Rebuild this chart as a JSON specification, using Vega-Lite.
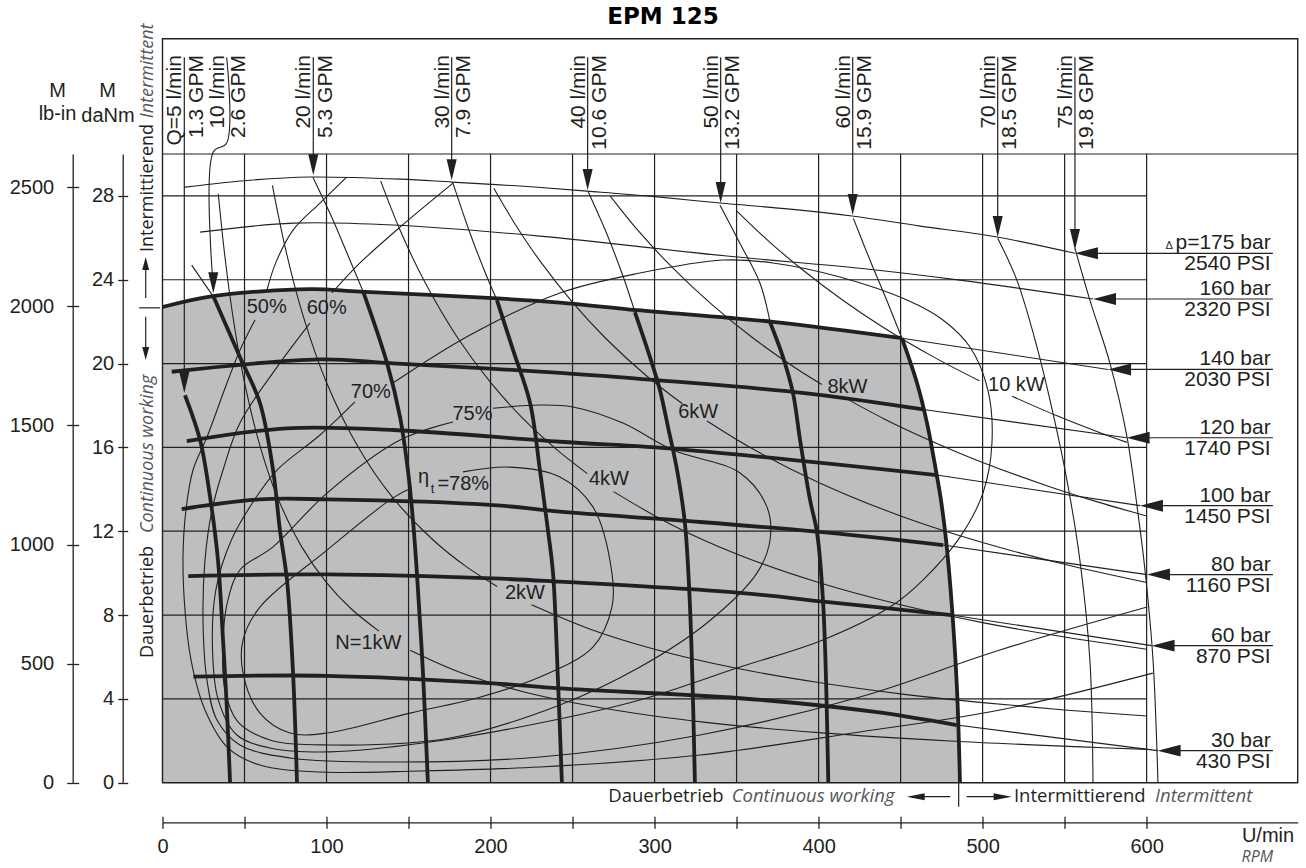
{
"$schema":"https://vega.github.io/schema/vega-lite/v6.json",
"width":1135.2,"height":628.7,
"autosize":{"type":"none"},
"padding":{"left":162.5,"top":154,"right":8.3,"bottom":85.3},
"background":"white",
"config":{"view":{"stroke":null},"axis":{"labelFont":"Liberation Sans","labelFontSize":20,"labelColor":"#231f20","domainColor":"#231f20","tickColor":"#231f20","domainWidth":1.3,"tickWidth":1.3,"grid":false,"title":null,"labelFlush":false,"labelOverlap":false}},
"datasets":{
"gray":[{"rpm":0,"danm":22.7},{"rpm":30.8,"danm":23.22},{"rpm":89.9,"danm":23.55},{"rpm":120.4,"danm":23.43},{"rpm":201.5,"danm":23.12},{"rpm":242.3,"danm":22.91},{"rpm":289.3,"danm":22.55},{"rpm":372.2,"danm":21.99},{"rpm":450.8,"danm":21.21},{"rpm":460,"danm":19.07},{"rpm":466.1,"danm":17.16},{"rpm":470.4,"danm":15.4},{"rpm":474.6,"danm":13.49},{"rpm":477.7,"danm":11.58},{"rpm":481.3,"danm":8.38},{"rpm":484.4,"danm":4.42},{"rpm":486.2,"danm":0}],
"vseg":[{"rpm":50,"y0":0,"y1":30},{"rpm":100,"y0":0,"y1":30},{"rpm":150,"y0":0,"y1":30},{"rpm":200,"y0":0,"y1":30},{"rpm":250,"y0":0,"y1":30},{"rpm":300,"y0":0,"y1":30},{"rpm":350,"y0":0,"y1":30},{"rpm":400,"y0":0,"y1":30},{"rpm":450,"y0":0,"y1":30},{"rpm":500,"y0":0,"y1":30},{"rpm":550,"y0":0,"y1":30},{"rpm":600,"y0":0,"y1":30},
{"rpm":13.29,"y0":34.62,"y1":18.9},{"rpm":91.93,"y0":34.62,"y1":29.2},{"rpm":176.3,"y0":34.62,"y1":29},{"rpm":259.2,"y0":34.62,"y1":28.5},{"rpm":340.3,"y0":34.62,"y1":27.9},{"rpm":420.8,"y0":34.62,"y1":27.3},{"rpm":509.2,"y0":34.62,"y1":26.3},{"rpm":556.3,"y0":34.62,"y1":25.7},
{"rpm":-10.24,"y0":23.13,"y1":24.9},{"rpm":-10.24,"y0":22.23,"y1":20.4},{"rpm":485.4,"y0":0,"y1":-1.145}],
"hseg":[{"danm":4,"x0":0,"x1":600},{"danm":8,"x0":0,"x1":600},{"danm":12,"x0":0,"x1":600},{"danm":16,"x0":0,"x1":600},{"danm":20,"x0":0,"x1":600},{"danm":24,"x0":0,"x1":600},{"danm":28,"x0":0,"x1":600},{"danm":30,"x0":0,"x1":692.1},
{"danm":22.66,"x0":-14.3,"x1":-1.5},
{"danm":25.26,"x0":560,"x1":677},{"danm":23.08,"x0":571,"x1":677},{"danm":19.72,"x0":580,"x1":677},{"danm":16.46,"x0":591,"x1":677},{"danm":13.22,"x0":599,"x1":677},{"danm":9.93,"x0":603,"x1":677},{"danm":6.54,"x0":606,"x1":677},{"danm":1.53,"x0":610,"x1":677},
{"danm":-0.668,"x0":456,"x1":480.2},{"danm":-0.668,"x0":490.3,"x1":515}],
"thick":[
{"id":"t140","rpm":0,"danm":22.7},{"id":"t140","rpm":30.8,"danm":23.22},{"id":"t140","rpm":89.9,"danm":23.55},{"id":"t140","rpm":120.4,"danm":23.43},{"id":"t140","rpm":201.5,"danm":23.12},{"id":"t140","rpm":242.3,"danm":22.91},{"id":"t140","rpm":289.3,"danm":22.55},{"id":"t140","rpm":372.2,"danm":21.99},{"id":"t140","rpm":450.8,"danm":21.21},
{"id":"t120","rpm":5.6,"danm":19.61},{"id":"t120","rpm":96,"danm":20.2},{"id":"t120","rpm":140.7,"danm":20.01},{"id":"t120","rpm":242.3,"danm":19.56},{"id":"t120","rpm":301.3,"danm":19.21},{"id":"t120","rpm":392.7,"danm":18.58},{"id":"t120","rpm":463.8,"danm":17.81},
{"id":"t100","rpm":14.8,"danm":16.3},{"id":"t100","rpm":75.7,"danm":16.91},{"id":"t100","rpm":140.7,"danm":16.83},{"id":"t100","rpm":242.3,"danm":16.27},{"id":"t100","rpm":315.5,"danm":15.91},{"id":"t100","rpm":472,"danm":14.68},
{"id":"t80","rpm":11.7,"danm":13.06},{"id":"t80","rpm":59.4,"danm":13.52},{"id":"t80","rpm":100.1,"danm":13.52},{"id":"t80","rpm":201.7,"danm":13.25},{"id":"t80","rpm":242.3,"danm":12.93},{"id":"t80","rpm":319.6,"danm":12.49},{"id":"t80","rpm":398.8,"danm":11.98},{"id":"t80","rpm":476,"danm":11.34},
{"id":"t60","rpm":15.7,"danm":9.86},{"id":"t60","rpm":100.1,"danm":9.94},{"id":"t60","rpm":201.7,"danm":9.75},{"id":"t60","rpm":242.3,"danm":9.59},{"id":"t60","rpm":352.1,"danm":9.06},{"id":"t60","rpm":402.9,"danm":8.64},{"id":"t60","rpm":481.1,"danm":8},
{"id":"t30","rpm":18.8,"danm":5.06},{"id":"t30","rpm":100.1,"danm":5.1},{"id":"t30","rpm":201.7,"danm":4.74},{"id":"t30","rpm":242.3,"danm":4.5},{"id":"t30","rpm":352.1,"danm":4.03},{"id":"t30","rpm":433.3,"danm":3.39},{"id":"t30","rpm":484.2,"danm":2.75},
{"id":"q5","rpm":13.7,"danm":18.49},{"id":"q5","rpm":22.9,"danm":16.35},{"id":"q5","rpm":29,"danm":13.63},{"id":"q5","rpm":33.8,"danm":10.63},{"id":"q5","rpm":36.9,"danm":6.81},{"id":"q5","rpm":39.2,"danm":3.61},{"id":"q5","rpm":41.2,"danm":0},
{"id":"q10","rpm":30.8,"danm":23.25},{"id":"q10","rpm":47.2,"danm":20.31},{"id":"q10","rpm":59.4,"danm":18.12},{"id":"q10","rpm":67.4,"danm":14.92},{"id":"q10","rpm":71.6,"danm":12.05},{"id":"q10","rpm":75.9,"danm":9.67},{"id":"q10","rpm":79.6,"danm":5.22},{"id":"q10","rpm":82,"danm":0},
{"id":"q20","rpm":122.4,"danm":23.42},{"id":"q20","rpm":136.9,"danm":20.02},{"id":"q20","rpm":144.8,"danm":17.46},{"id":"q20","rpm":149.6,"danm":14.92},{"id":"q20","rpm":152.7,"danm":12.53},{"id":"q20","rpm":155.1,"danm":10.01},{"id":"q20","rpm":158.8,"danm":5.24},{"id":"q20","rpm":161.8,"danm":0},
{"id":"q30","rpm":203.9,"danm":23.03},{"id":"q30","rpm":213.7,"danm":20.65},{"id":"q30","rpm":224.1,"danm":18.12},{"id":"q30","rpm":230.1,"danm":14.92},{"id":"q30","rpm":235,"danm":12.05},{"id":"q30","rpm":238.1,"danm":9.99},{"id":"q30","rpm":241.1,"danm":4.9},{"id":"q30","rpm":243.5,"danm":0},
{"id":"q40","rpm":288,"danm":22.46},{"id":"q40","rpm":297.2,"danm":20.31},{"id":"q40","rpm":303.3,"danm":18.73},{"id":"q40","rpm":308.2,"danm":16.97},{"id":"q40","rpm":313.7,"danm":14.92},{"id":"q40","rpm":318.5,"danm":12.38},{"id":"q40","rpm":321.6,"danm":8.4},{"id":"q40","rpm":324.6,"danm":0},
{"id":"q50","rpm":370.4,"danm":21.97},{"id":"q50","rpm":378.3,"danm":20.31},{"id":"q50","rpm":384.4,"danm":18.59},{"id":"q50","rpm":388.7,"danm":16.35},{"id":"q50","rpm":394.8,"danm":13.49},{"id":"q50","rpm":399.1,"danm":11.91},{"id":"q50","rpm":402.9,"danm":8.38},{"id":"q50","rpm":405.9,"danm":0},
{"id":"q60","rpm":450.8,"danm":21.21},{"id":"q60","rpm":460,"danm":19.07},{"id":"q60","rpm":466.1,"danm":17.16},{"id":"q60","rpm":470.4,"danm":15.4},{"id":"q60","rpm":474.6,"danm":13.49},{"id":"q60","rpm":477.7,"danm":11.58},{"id":"q60","rpm":481.3,"danm":8.38},{"id":"q60","rpm":484.4,"danm":4.42},{"id":"q60","rpm":486.2,"danm":0}],
"thin":[
{"id":"p175","rpm":13.7,"danm":28.42},{"id":"p175","rpm":53.3,"danm":28.75},{"id":"p175","rpm":89.9,"danm":28.9},{"id":"p175","rpm":144.8,"danm":28.8},{"id":"p175","rpm":176.5,"danm":28.66},{"id":"p175","rpm":217.9,"danm":28.47},{"id":"p175","rpm":258.8,"danm":28.23},{"id":"p175","rpm":297.2,"danm":27.99},{"id":"p175","rpm":339.9,"danm":27.66},{"id":"p175","rpm":382.6,"danm":27.37},{"id":"p175","rpm":420.4,"danm":27.04},{"id":"p175","rpm":461.9,"danm":26.56},{"id":"p175","rpm":508.8,"danm":26.04},{"id":"p175","rpm":556.3,"danm":25.26},
{"id":"p160","rpm":22.9,"danm":26.27},{"id":"p160","rpm":79.6,"danm":26.7},{"id":"p160","rpm":140.5,"danm":26.61},{"id":"p160","rpm":230.1,"danm":26.08},{"id":"p160","rpm":344.1,"danm":25.13},{"id":"p160","rpm":425.2,"danm":24.55},{"id":"p160","rpm":486.2,"danm":23.98},{"id":"p160","rpm":567.3,"danm":23.08},
{"id":"p140t","rpm":450.8,"danm":21.21},{"id":"p140t","rpm":576.5,"danm":19.72},
{"id":"p120t","rpm":463.8,"danm":17.81},{"id":"p120t","rpm":587.8,"danm":16.46},
{"id":"p100t","rpm":472,"danm":14.68},{"id":"p100t","rpm":595.9,"danm":13.22},
{"id":"p80t","rpm":476,"danm":11.34},{"id":"p80t","rpm":600.2,"danm":9.93},
{"id":"p60t","rpm":481.1,"danm":8},{"id":"p60t","rpm":603,"danm":6.54},
{"id":"p30t","rpm":484.2,"danm":2.75},{"id":"p30t","rpm":606.7,"danm":1.53},
{"id":"q10a","rpm":17.8,"danm":24.7},{"id":"q10a","rpm":30.8,"danm":23.22},
{"id":"q10s","rpm":39.14,"danm":34.62},{"id":"q10s","rpm":39.14,"danm":30.52},{"id":"q10s","rpm":30.97,"danm":30.1},{"id":"q10s","rpm":30.97,"danm":23.7},
{"id":"q20t","rpm":91.7,"danm":28.89},{"id":"q20t","rpm":104,"danm":26.84},{"id":"q20t","rpm":114.3,"danm":24.93},{"id":"q20t","rpm":122.4,"danm":23.42},
{"id":"q30t","rpm":177.1,"danm":28.61},{"id":"q30t","rpm":187.5,"danm":26.22},{"id":"q30t","rpm":197.9,"danm":24.12},{"id":"q30t","rpm":203.9,"danm":23.03},
{"id":"q40t","rpm":259.6,"danm":28.19},{"id":"q40t","rpm":270.8,"danm":26.21},{"id":"q40t","rpm":280.9,"danm":24.14},{"id":"q40t","rpm":288,"danm":22.47},
{"id":"q50t","rpm":339.9,"danm":27.56},{"id":"q50t","rpm":352.1,"danm":25.73},{"id":"q50t","rpm":364.3,"danm":23.83},{"id":"q50t","rpm":370.4,"danm":21.99},
{"id":"q60t","rpm":421.2,"danm":26.93},{"id":"q60t","rpm":431.3,"danm":24.94},{"id":"q60t","rpm":441.5,"danm":23.03},{"id":"q60t","rpm":450.8,"danm":21.21},
{"id":"q70","rpm":509.2,"danm":25.98},{"id":"q70","rpm":520.9,"danm":23.98},{"id":"q70","rpm":533.1,"danm":20.8},{"id":"q70","rpm":542.9,"danm":17.63},{"id":"q70","rpm":551.4,"danm":14.44},{"id":"q70","rpm":559.3,"danm":10.62},{"id":"q70","rpm":565.4,"danm":5.85},{"id":"q70","rpm":567.3,"danm":0},
{"id":"q75","rpm":556.3,"danm":25.5},{"id":"q75","rpm":565.4,"danm":23.03},{"id":"q75","rpm":577.6,"danm":20.02},{"id":"q75","rpm":588,"danm":16.51},{"id":"q75","rpm":594.7,"danm":12.86},{"id":"q75","rpm":599,"danm":10.14},{"id":"q75","rpm":603.9,"danm":5.85},{"id":"q75","rpm":606.9,"danm":0},
{"id":"kw1a","rpm":34,"danm":28.1},{"id":"kw1a","rpm":38,"danm":25.13},{"id":"kw1a","rpm":43,"danm":22.21},{"id":"kw1a","rpm":50,"danm":19.1},{"id":"kw1a","rpm":60,"danm":15.92},{"id":"kw1a","rpm":70,"danm":13.64},{"id":"kw1a","rpm":85,"danm":11.24},{"id":"kw1a","rpm":100,"danm":9.55},{"id":"kw1a","rpm":115,"danm":8.3},{"id":"kw1a","rpm":132,"danm":7.23},
{"id":"kw1b","rpm":151,"danm":6.32},{"id":"kw1b","rpm":180,"danm":5.31},{"id":"kw1b","rpm":220,"danm":4.34},{"id":"kw1b","rpm":270,"danm":3.54},{"id":"kw1b","rpm":330,"danm":2.89},{"id":"kw1b","rpm":400,"danm":2.39},{"id":"kw1b","rpm":480,"danm":1.99},{"id":"kw1b","rpm":560,"danm":1.71},{"id":"kw1b","rpm":600,"danm":1.59},
{"id":"kw2a","rpm":67,"danm":28.5},{"id":"kw2a","rpm":75,"danm":25.47},{"id":"kw2a","rpm":85,"danm":22.47},{"id":"kw2a","rpm":100,"danm":19.1},{"id":"kw2a","rpm":120,"danm":15.92},{"id":"kw2a","rpm":140,"danm":13.64},{"id":"kw2a","rpm":165,"danm":11.58},{"id":"kw2a","rpm":185,"danm":10.32},{"id":"kw2a","rpm":204,"danm":9.36},
{"id":"kw2b","rpm":225,"danm":8.49},{"id":"kw2b","rpm":260,"danm":7.35},{"id":"kw2b","rpm":300,"danm":6.37},{"id":"kw2b","rpm":350,"danm":5.46},{"id":"kw2b","rpm":400,"danm":4.78},{"id":"kw2b","rpm":450,"danm":4.24},{"id":"kw2b","rpm":500,"danm":3.82},{"id":"kw2b","rpm":550,"danm":3.47},{"id":"kw2b","rpm":600,"danm":3.18},
{"id":"kw4a","rpm":133,"danm":28.72},{"id":"kw4a","rpm":145,"danm":26.34},{"id":"kw4a","rpm":160,"danm":23.88},{"id":"kw4a","rpm":180,"danm":21.22},{"id":"kw4a","rpm":200,"danm":19.1},{"id":"kw4a","rpm":220,"danm":17.36},{"id":"kw4a","rpm":240,"danm":15.92},{"id":"kw4a","rpm":259,"danm":14.75},
{"id":"kw4b","rpm":275,"danm":13.89},{"id":"kw4b","rpm":310,"danm":12.32},{"id":"kw4b","rpm":350,"danm":10.91},{"id":"kw4b","rpm":400,"danm":9.55},{"id":"kw4b","rpm":450,"danm":8.49},{"id":"kw4b","rpm":500,"danm":7.64},{"id":"kw4b","rpm":550,"danm":6.95},{"id":"kw4b","rpm":600,"danm":6.37},
{"id":"kw6a","rpm":202,"danm":28.37},{"id":"kw6a","rpm":215,"danm":26.65},{"id":"kw6a","rpm":230,"danm":24.91},{"id":"kw6a","rpm":250,"danm":22.92},{"id":"kw6a","rpm":270,"danm":21.22},{"id":"kw6a","rpm":295,"danm":19.42},{"id":"kw6a","rpm":317,"danm":18.08},
{"id":"kw6b","rpm":332,"danm":17.26},{"id":"kw6b","rpm":360,"danm":15.92},{"id":"kw6b","rpm":400,"danm":14.33},{"id":"kw6b","rpm":450,"danm":12.73},{"id":"kw6b","rpm":500,"danm":11.46},{"id":"kw6b","rpm":550,"danm":10.42},{"id":"kw6b","rpm":600,"danm":9.55},
{"id":"kw8a","rpm":273,"danm":27.99},{"id":"kw8a","rpm":290,"danm":26.34},{"id":"kw8a","rpm":310,"danm":24.65},{"id":"kw8a","rpm":335,"danm":22.81},{"id":"kw8a","rpm":360,"danm":21.22},{"id":"kw8a","rpm":385,"danm":19.84},{"id":"kw8a","rpm":402,"danm":19},
{"id":"kw8b","rpm":415,"danm":18.41},{"id":"kw8b","rpm":440,"danm":17.36},{"id":"kw8b","rpm":470,"danm":16.26},{"id":"kw8b","rpm":500,"danm":15.28},{"id":"kw8b","rpm":540,"danm":14.15},{"id":"kw8b","rpm":570,"danm":13.4},{"id":"kw8b","rpm":600,"danm":12.73},
{"id":"kw10a","rpm":350,"danm":27.29},{"id":"kw10a","rpm":370,"danm":25.81},{"id":"kw10a","rpm":390,"danm":24.49},{"id":"kw10a","rpm":415,"danm":23.01},{"id":"kw10a","rpm":440,"danm":21.7},{"id":"kw10a","rpm":470,"danm":20.32},{"id":"kw10a","rpm":498,"danm":19.18},
{"id":"kw10b","rpm":518,"danm":18.44},{"id":"kw10b","rpm":545,"danm":17.52},{"id":"kw10b","rpm":570,"danm":16.75},{"id":"kw10b","rpm":588,"danm":16.24},
{"id":"e50a","rpm":112.3,"danm":28.9},{"id":"e50a","rpm":96,"danm":27.66},{"id":"e50a","rpm":79.6,"danm":26.37},{"id":"e50a","rpm":69.2,"danm":24.84},{"id":"e50a","rpm":63.7,"danm":23.51},
{"id":"e50b","rpm":56.4,"danm":22.08},{"id":"e50b","rpm":47.2,"danm":20.64},{"id":"e50b","rpm":39.3,"danm":19.07},{"id":"e50b","rpm":27.1,"danm":16.49},{"id":"e50b","rpm":18.6,"danm":14.92},{"id":"e50b","rpm":14.3,"danm":13.01},{"id":"e50b","rpm":12.5,"danm":10.77},{"id":"e50b","rpm":13.7,"danm":8.24},{"id":"e50b","rpm":17.4,"danm":5.85},{"id":"e50b","rpm":25.9,"danm":3.47},{"id":"e50b","rpm":39.9,"danm":1.66},{"id":"e50b","rpm":59.4,"danm":0.84},{"id":"e50b","rpm":96,"danm":0.51},{"id":"e50b","rpm":157,"danm":0.56},{"id":"e50b","rpm":230.1,"danm":0.75},{"id":"e50b","rpm":327.7,"danm":1.32},{"id":"e50b","rpm":425.2,"danm":2.42},{"id":"e50b","rpm":510.5,"danm":3.47},{"id":"e50b","rpm":603.8,"danm":5.23},
{"id":"e60a","rpm":177.1,"danm":28.61},{"id":"e60a","rpm":144.8,"danm":26.51},{"id":"e60a","rpm":120.4,"danm":24.8},{"id":"e60a","rpm":103.3,"danm":23.37},
{"id":"e60b","rpm":89.9,"danm":21.93},{"id":"e60b","rpm":69.8,"danm":19.83},{"id":"e60b","rpm":47.2,"danm":17.16},{"id":"e60b","rpm":36.9,"danm":14.92},{"id":"e60b","rpm":30.2,"danm":13.01},{"id":"e60b","rpm":25.9,"danm":10.62},{"id":"e60b","rpm":24.7,"danm":7.76},{"id":"e60b","rpm":27.1,"danm":4.9},{"id":"e60b","rpm":33.2,"danm":2.99},{"id":"e60b","rpm":47.2,"danm":1.8},{"id":"e60b","rpm":77.7,"danm":1.18},{"id":"e60b","rpm":144.8,"danm":0.99},{"id":"e60b","rpm":230.1,"danm":1.23},{"id":"e60b","rpm":327.7,"danm":2.28},{"id":"e60b","rpm":425.2,"danm":4.09},{"id":"e60b","rpm":510.5,"danm":6.33},{"id":"e60b","rpm":600.3,"danm":8.38},
{"id":"e70","rpm":140.5,"danm":19.07},{"id":"e70","rpm":187.5,"danm":21.36},{"id":"e70","rpm":242.3,"danm":23.37},{"id":"e70","rpm":291.1,"danm":24.32},{"id":"e70","rpm":341.7,"danm":24.94},{"id":"e70","rpm":372.2,"danm":24.8},{"id":"e70","rpm":413,"danm":24.13},{"id":"e70","rpm":453.9,"danm":23.03},{"id":"e70","rpm":475.8,"danm":22.08},{"id":"e70","rpm":492.3,"danm":20.79},{"id":"e70","rpm":503.2,"danm":18.74},{"id":"e70","rpm":505.7,"danm":16.21},{"id":"e70","rpm":500.2,"danm":13.82},{"id":"e70","rpm":486.2,"danm":11.72},{"id":"e70","rpm":463.6,"danm":9.67},{"id":"e70","rpm":443.5,"danm":8.38},{"id":"e70","rpm":402.6,"danm":6.81},{"id":"e70","rpm":352.1,"danm":5.52},{"id":"e70","rpm":291.1,"danm":3.95},{"id":"e70","rpm":230.1,"danm":2.85},{"id":"e70","rpm":163.1,"danm":1.94},{"id":"e70","rpm":102.1,"danm":1.47},{"id":"e70","rpm":65.5,"danm":1.66},{"id":"e70","rpm":45,"danm":2.3},{"id":"e70","rpm":34,"danm":3.95},{"id":"e70","rpm":30.5,"danm":6.33},{"id":"e70","rpm":32.5,"danm":9.19},{"id":"e70","rpm":42,"danm":11.58},{"id":"e70","rpm":56,"danm":13.49},{"id":"e70","rpm":69.8,"danm":14.92},{"id":"e70","rpm":96,"danm":16.59},{"id":"e70","rpm":117.3,"danm":18.17},
{"id":"e75","rpm":201.5,"danm":17.87},{"id":"e75","rpm":230.1,"danm":18.02},{"id":"e75","rpm":250.2,"danm":17.93},{"id":"e75","rpm":280.7,"danm":17.16},{"id":"e75","rpm":311.2,"danm":15.87},{"id":"e75","rpm":352.1,"danm":14.78},{"id":"e75","rpm":368.5,"danm":13.16},{"id":"e75","rpm":370.4,"danm":11.58},{"id":"e75","rpm":362.4,"danm":10},{"id":"e75","rpm":331.9,"danm":7.62},{"id":"e75","rpm":291.1,"danm":5.52},{"id":"e75","rpm":242.3,"danm":3.71},{"id":"e75","rpm":175.2,"danm":2.13},{"id":"e75","rpm":102.1,"danm":1.8},{"id":"e75","rpm":65.5,"danm":2.04},{"id":"e75","rpm":46,"danm":2.9},{"id":"e75","rpm":38.1,"danm":4.42},{"id":"e75","rpm":36.9,"danm":6.81},{"id":"e75","rpm":39.9,"danm":8.72},{"id":"e75","rpm":47.2,"danm":10.15},{"id":"e75","rpm":67.4,"danm":11.25},{"id":"e75","rpm":100.3,"danm":13.82},{"id":"e75","rpm":144.8,"danm":16.35},{"id":"e75","rpm":177.1,"danm":17.21},
{"id":"e78","rpm":183.2,"danm":14.83},{"id":"e78","rpm":211.8,"danm":15.06},{"id":"e78","rpm":242.3,"danm":14.59},{"id":"e78","rpm":262.4,"danm":13.16},{"id":"e78","rpm":274,"danm":10.01},{"id":"e78","rpm":274,"danm":8.38},{"id":"e78","rpm":262.4,"danm":6.47},{"id":"e78","rpm":230.1,"danm":5.04},{"id":"e78","rpm":193.5,"danm":4.08},{"id":"e78","rpm":150.9,"danm":3.32},{"id":"e78","rpm":100.3,"danm":2.37},{"id":"e78","rpm":77.7,"danm":2.37},{"id":"e78","rpm":59.4,"danm":3.32},{"id":"e78","rpm":49.1,"danm":5.23},{"id":"e78","rpm":49.1,"danm":6.81},{"id":"e78","rpm":59.4,"danm":8.38},{"id":"e78","rpm":100.3,"danm":11.1},{"id":"e78","rpm":140.5,"danm":13.59},{"id":"e78","rpm":152.1,"danm":14.07}],
"adown":[{"rpm":13.29,"danm":18.59},{"rpm":30.97,"danm":23.36},{"rpm":91.93,"danm":28.99},{"rpm":176.3,"danm":28.75},{"rpm":259.2,"danm":28.28},{"rpm":340.3,"danm":27.66},{"rpm":420.8,"danm":27.09},{"rpm":509.2,"danm":26.04},{"rpm":556.3,"danm":25.42}],
"aleft":[{"rpm":556.3,"danm":25.26},{"rpm":567.3,"danm":23.08},{"rpm":576.5,"danm":19.72},{"rpm":587.8,"danm":16.46},{"rpm":595.9,"danm":13.22},{"rpm":600.2,"danm":9.93},{"rpm":603,"danm":6.54},{"rpm":606.7,"danm":1.53}],
"asmall":[{"rpm":453.7,"danm":-0.668,"dir":"L"},{"rpm":517.7,"danm":-0.668,"dir":"R"},{"rpm":-10.24,"danm":25.08,"dir":"U"},{"rpm":-10.24,"danm":20.17,"dir":"D"}],
"flowlab":[{"rpm":13.29,"danm":34.72,"l":"Q=5 l/min","r":"1.3 GPM"},{"rpm":39.14,"danm":34.72,"l":"10 l/min","r":"2.6 GPM"},{"rpm":91.93,"danm":34.72,"l":"20 l/min","r":"5.3 GPM"},{"rpm":176.3,"danm":34.72,"l":"30 l/min","r":"7.9 GPM"},{"rpm":259.2,"danm":34.72,"l":"40 l/min","r":"10.6 GPM"},{"rpm":340.3,"danm":34.72,"l":"50 l/min","r":"13.2 GPM"},{"rpm":420.8,"danm":34.72,"l":"60 l/min","r":"15.9 GPM"},{"rpm":509.2,"danm":34.72,"l":"70 l/min","r":"18.5 GPM"},{"rpm":556.3,"danm":34.72,"l":"75 l/min","r":"19.8 GPM"}],
"presslab":[{"rpm":675.6,"danm":25.26,"up":"p=175 bar","low":"2540 PSI"},{"rpm":675.6,"danm":23.08,"up":"160 bar","low":"2320 PSI"},{"rpm":675.6,"danm":19.72,"up":"140 bar","low":"2030 PSI"},{"rpm":675.6,"danm":16.46,"up":"120 bar","low":"1740 PSI"},{"rpm":675.6,"danm":13.22,"up":"100 bar","low":"1450 PSI"},{"rpm":675.6,"danm":9.93,"up":"80 bar","low":"1160 PSI"},{"rpm":675.6,"danm":6.54,"up":"60 bar","low":"870 PSI"},{"rpm":675.6,"danm":1.53,"up":"30 bar","low":"430 PSI"}],
"annot":[{"rpm":63.5,"danm":22.71,"text":"50%"},{"rpm":100.1,"danm":22.63,"text":"60%"},{"rpm":127,"danm":18.65,"text":"70%"},{"rpm":189,"danm":17.58,"text":"75%"},{"rpm":125.5,"danm":6.67,"text":"N=1kW"},{"rpm":221,"danm":9.03,"text":"2kW"},{"rpm":272.2,"danm":14.47,"text":"4kW"},{"rpm":326.6,"danm":17.71,"text":"6kW"},{"rpm":417.6,"danm":18.9,"text":"8kW"},{"rpm":520.6,"danm":18.97,"text":"10 kW"}],
"units":[{"rpm":-64,"danm":32.71,"text":"M"},{"rpm":-64,"danm":31.62,"text":"lb-in"},{"rpm":-33.5,"danm":32.71,"text":"M"},{"rpm":-33.2,"danm":31.54,"text":"daNm"},{"rpm":674,"danm":-2.81,"text":"U/min"}],
"rotReg":[{"rpm":-5.79,"danm":25.32,"text":"Intermittierend"},{"rpm":-5.79,"danm":5.95,"text":"Dauerbetrieb"}],
"rotIt":[{"rpm":-5.79,"danm":31.71,"text":"Intermittent"},{"rpm":-5.79,"danm":11.91,"text":"Continuous working"}],
"botReg":[{"rpm":271.8,"danm":-0.907,"text":"Dauerbetrieb"},{"rpm":519.1,"danm":-0.907,"text":"Intermittierend"}],
"botIt":[{"rpm":347,"danm":-0.907,"text":"Continuous working"},{"rpm":605.1,"danm":-0.907,"text":"Intermittent"}]
},
"resolve":{"axis":{"x":"independent","y":"independent"}},
"encoding":{
"x":{"field":"rpm","type":"quantitative","scale":{"domain":[0,692.1],"nice":false,"zero":false},"axis":null},
"y":{"field":"danm","type":"quantitative","scale":{"domain":[0,30],"nice":false,"zero":false},"axis":null}},
"layer":[
{"data":{"name":"gray"},"mark":{"type":"area","color":"#bcbec0"},
 "encoding":{
 "x":{"field":"rpm","type":"quantitative","scale":{"domain":[0,692.1],"nice":false,"zero":false},"axis":{"orient":"bottom","offset":39.6,"values":[0,50,100,150,200,250,300,350,400,450,500,550,600],"labelExpr":"datum.value % 100 === 0 ? datum.label : ''","tickSize":6,"labelPadding":8}},
 "y":{"field":"danm","type":"quantitative","scale":{"domain":[0,30],"nice":false,"zero":false},"axis":{"orient":"left","offset":39.8,"values":[0,4,8,12,16,20,24,28],"tickSize":5,"labelPadding":4}},
 "y2":{"datum":0}}},
{"data":{"name":"vseg"},"mark":{"type":"rule","color":"#231f20","strokeWidth":1.2},
 "encoding":{"y":{"field":"y0","type":"quantitative","scale":{"domain":[0,30],"nice":false,"zero":false},"axis":{"orient":"left","offset":89.8,"values":[0,5.6818,11.3636,17.0455,22.7273,28.4091],"tickSize":-6,"labels":false,"domain":false}},"y2":{"field":"y1"}}},
{"data":{"name":"hseg"},"mark":{"type":"rule","color":"#231f20","strokeWidth":1.2},
 "encoding":{"x":{"field":"x0","type":"quantitative","scale":{"domain":[0,692.1],"nice":false,"zero":false},"axis":null},"x2":{"field":"x1"}}},
{"data":{"values":[{"x0":0,"x1":692.1,"y0":0,"y1":35.5}]},"mark":{"type":"rect","fillOpacity":0,"stroke":"#231f20","strokeWidth":1.4},
 "encoding":{"x":{"field":"x0","type":"quantitative","scale":{"domain":[0,692.1],"nice":false,"zero":false},"axis":null},"x2":{"field":"x1"},"y":{"field":"y0","type":"quantitative","scale":{"domain":[0,30],"nice":false,"zero":false},"axis":null},"y2":{"field":"y1"}}},
{"data":{"name":"thin"},"mark":{"type":"line","color":"#231f20","strokeWidth":1.1,"interpolate":"catmull-rom"},
 "encoding":{"y":{"field":"danm","type":"quantitative","scale":{"domain":[0,30],"nice":false,"zero":false},"axis":{"orient":"left","offset":89.8,"values":[0,5.6818,11.3636,17.0455,22.7273,28.4091],"labelExpr":"format(round(datum.value*0.88)*100,'d')","tickSize":6,"labelPadding":13}},"detail":{"field":"id"},"order":{"value":null}}},
{"data":{"name":"thick"},"mark":{"type":"line","color":"#231f20","strokeWidth":3.8,"interpolate":"catmull-rom","strokeJoin":"round"},
 "encoding":{
 "x":{"field":"rpm","type":"quantitative","scale":{"domain":[0,692.1],"nice":false,"zero":false},"axis":{"orient":"bottom","offset":39.6,"values":[0,50,100,150,200,250,300,350,400,450,500,550,600],"tickSize":-6,"labels":false,"domain":false}},
 "y":{"field":"danm","type":"quantitative","scale":{"domain":[0,30],"nice":false,"zero":false},"axis":{"orient":"left","offset":39.8,"values":[0,4,8,12,16,20,24,28],"tickSize":-5,"labels":false,"domain":false}},
 "detail":{"field":"id"},"order":{"value":null}}},
{"data":{"name":"adown"},"mark":{"type":"point","shape":"M0,0L-0.24,-1L0.24,-1Z","size":1764,"filled":true,"color":"#231f20","opacity":1,"strokeWidth":0}},
{"data":{"name":"aleft"},"mark":{"type":"point","shape":"M0,0L1,-0.26L1,0.26Z","size":2116,"filled":true,"color":"#231f20","opacity":1,"strokeWidth":0}},
{"data":{"name":"asmall"},"mark":{"type":"point","size":1000,"filled":true,"color":"#231f20","opacity":1,"strokeWidth":0},
 "encoding":{"shape":{"field":"dir","type":"nominal","scale":{"domain":["L","R","U","D"],"range":["M0,0L1.14,-0.22L1.14,0.22Z","M0,0L-1.14,-0.22L-1.14,0.22Z","M0,0L-0.22,0.82L0.22,0.82Z","M0,0L-0.22,-0.82L0.22,-0.82Z"]},"legend":null}}},
{"data":{"name":"flowlab"},"mark":{"type":"text","angle":270,"align":"right","baseline":"alphabetic","dy":-3,"font":"Liberation Sans","fontSize":21,"color":"#231f20"},"encoding":{"text":{"field":"l"}}},
{"data":{"name":"flowlab"},"mark":{"type":"text","angle":270,"align":"right","baseline":"top","dy":1.5,"font":"Liberation Sans","fontSize":21,"color":"#231f20"},"encoding":{"text":{"field":"r"}}},
{"data":{"name":"presslab"},"mark":{"type":"text","align":"right","baseline":"bottom","font":"Liberation Sans","fontSize":21,"color":"#231f20"},"encoding":{"text":{"field":"up"}}},
{"data":{"name":"presslab"},"mark":{"type":"text","align":"right","baseline":"top","font":"Liberation Sans","fontSize":21,"color":"#231f20"},"encoding":{"text":{"field":"low"}}},
{"data":{"values":[{"rpm":616,"danm":25.26,"text":"Δ"}]},"mark":{"type":"text","align":"right","baseline":"bottom","dy":-2,"font":"Liberation Sans","fontSize":11,"color":"#231f20"},"encoding":{"text":{"field":"text"}}},
{"data":{"name":"annot"},"mark":{"type":"text","align":"center","baseline":"middle","font":"Liberation Sans","fontSize":20,"color":"#231f20"},"encoding":{"text":{"field":"text"}}},
{"data":{"values":[{"rpm":155.8,"danm":14.28,"text":"η"},{"rpm":167.6,"danm":13.98,"text":"=78%"}]},"mark":{"type":"text","align":"left","baseline":"alphabetic","font":"Liberation Sans","fontSize":20,"color":"#231f20"},"encoding":{"text":{"field":"text"}}},
{"data":{"values":[{"rpm":163.5,"danm":13.82,"text":"t"}]},"mark":{"type":"text","align":"left","baseline":"alphabetic","font":"Liberation Sans","fontSize":13,"color":"#231f20"},"encoding":{"text":{"field":"text"}}},
{"data":{"name":"units"},"mark":{"type":"text","align":"center","baseline":"alphabetic","font":"Liberation Sans","fontSize":20,"color":"#231f20"},"encoding":{"text":{"field":"text"}}},
{"data":{"name":"rotReg"},"mark":{"type":"text","angle":270,"align":"left","baseline":"alphabetic","font":"Open Sans","fontSize":18,"color":"#231f20"},"encoding":{"text":{"field":"text"}}},
{"data":{"name":"rotIt"},"mark":{"type":"text","angle":270,"align":"left","baseline":"alphabetic","font":"Open Sans","fontStyle":"italic","fontSize":18,"color":"#555759"},"encoding":{"text":{"field":"text"}}},
{"data":{"name":"botReg"},"mark":{"type":"text","align":"left","baseline":"alphabetic","font":"Open Sans","fontSize":18.5,"color":"#231f20"},"encoding":{"text":{"field":"text"}}},
{"data":{"name":"botIt"},"mark":{"type":"text","align":"left","baseline":"alphabetic","font":"Open Sans","fontStyle":"italic","fontSize":18.5,"color":"#555759"},"encoding":{"text":{"field":"text"}}},
{"data":{"values":[{"rpm":657.9,"danm":-3.78,"text":"RPM"}]},"mark":{"type":"text","align":"left","baseline":"alphabetic","font":"Open Sans","fontStyle":"italic","fontSize":16,"color":"#555759"},"encoding":{"text":{"field":"text"}}},
{"data":{"values":[{"rpm":305.1,"danm":36.2,"text":"EPM 125"}]},"mark":{"type":"text","align":"center","baseline":"alphabetic","font":"DejaVu Sans","fontWeight":"bold","fontSize":23,"color":"#000000"},"encoding":{"text":{"field":"text"}}}
]
}
